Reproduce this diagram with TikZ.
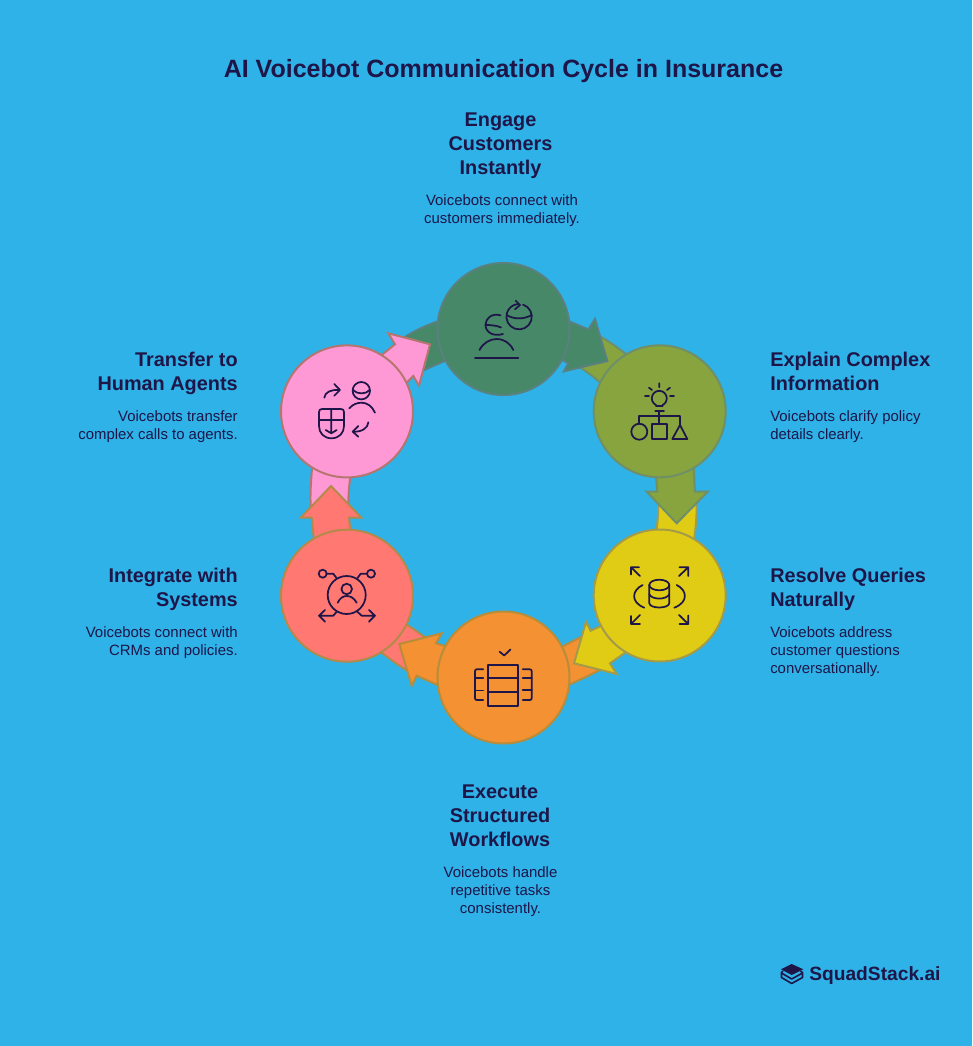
\documentclass[tikz,border=0pt]{standalone}
\usepackage{fontspec}
\setmainfont{Liberation Sans}
\definecolor{bg}{HTML}{2EB2E8}
\definecolor{ink}{HTML}{1E1548}
\definecolor{cgreen}{HTML}{468868}\definecolor{sgreen}{HTML}{5A8080}
\definecolor{colive}{HTML}{87A43F}\definecolor{solive}{HTML}{6F8F68}
\definecolor{cyellow}{HTML}{E0CC14}\definecolor{syellow}{HTML}{A39A4A}
\definecolor{corange}{HTML}{F39133}\definecolor{sorange}{HTML}{B78C3A}
\definecolor{ccoral}{HTML}{FF7872}\definecolor{scoral}{HTML}{B38A4A}
\definecolor{cpink}{HTML}{FF99D6}\definecolor{spink}{HTML}{B5766F}
\tikzset{
  shapeline/.style={line width=1.5pt,line join=miter},
  greenS/.style={shapeline,fill=cgreen,draw=sgreen},
  oliveS/.style={shapeline,fill=colive,draw=solive},
  yellowS/.style={shapeline,fill=cyellow,draw=syellow},
  orangeS/.style={shapeline,fill=corange,draw=sorange},
  coralS/.style={shapeline,fill=ccoral,draw=scoral},
  pinkS/.style={shapeline,fill=cpink,draw=spink},
  disc/.style={circle,minimum size=132*0.75pt,inner sep=0pt},
  icon/.style={draw=ink,line width=1.3pt,line cap=round,line join=round},
  titletext/.style={font=\fontsize{18.75}{23}\selectfont\bfseries,text=ink,inner sep=0pt},
  headtext/.style={font=\fontsize{14.9}{18}\selectfont\bfseries,text=ink,inner sep=0pt},
  desctext/.style={font=\fontsize{11.2}{13.5}\selectfont,text=ink,inner sep=0pt},
}
\begin{document}
\begin{tikzpicture}[x=0.75pt,y=-0.75pt]
\useasboundingbox (0,0) rectangle (972,1046);
\fill[bg] (0,0) rectangle (972,1046);
% tails
\path[greenS] (445,318) -- (436.7,321.7) .. controls (425,326) and (414,331) .. (405,337) -- (400,345) -- (410,365) -- (423,370.7) .. controls (430,367) and (438,364) .. (447,360) -- cycle;
\path[oliveS] (592,345) -- (601.7,337.3) .. controls (610,342) and (618,348) .. (626,354) -- (640,370) -- (610,392) -- (600,382.3) .. controls (594,377) and (587,372) .. (580,367.3) -- (585,358) -- cycle;
\path[yellowS] (670,498) -- (658.3,504) .. controls (658.3,513) and (657.5,523) .. (656,536) -- (694,540) .. controls (696,527) and (696.7,515) .. (696.7,503.3) -- (685,498) -- cycle;
\path[orangeS] (592,645) -- (581.7,636.7) .. controls (575,640) and (569,643) .. (560,648) -- (562,688) .. controls (575,682) and (588,676) .. (600,670) -- (595,655) -- cycle;
\path[coralS] (420,650) -- (426.7,638.3) .. controls (420,634) and (414,629) .. (407.3,625) -- (395,620) -- (375,650) -- (381.7,652.7) .. controls (390,659) and (398,665) .. (407.3,670.7) -- (415,665) -- cycle;
\path[pinkS] (325,512) -- (310.7,507) .. controls (310,494) and (311,481) .. (312.3,465) -- (351,472) .. controls (349.5,482) and (348.3,493) .. (348.3,504) -- (340,512) -- cycle;
% arrows
\path[greenS] (560,320) -- (570,321.7) -- (588.3,329.5) -- (595,319) -- (607.3,361) -- (564,371.3) -- (568.3,363.3) -- (555,356) -- cycle;
\path[oliveS] (655.5,470) -- (657.3,491.7) -- (646.7,491.7) -- (676.7,523.3) -- (707.7,491.7) -- (695,491.7) -- (693.3,462) -- cycle;
\path[yellowS] (605,618) -- (600.7,626) -- (590.7,630.7) -- (586,621.7) -- (574,663.3) -- (616.7,674) -- (610,663.3) -- (625,652.7) -- (632,645) -- cycle;
\path[orangeS] (450,648) -- (445,646) -- (436,643.3) -- (441.7,633.3) -- (399.3,644) -- (411.7,685.7) -- (416.7,675.7) -- (437.7,685) -- (445,688) -- cycle;
\path[coralS] (314.5,545) -- (311.7,517.7) -- (300.7,517.7) -- (331,486) -- (361.3,517.7) -- (349,517.7) -- (350.7,535) -- cycle;
\path[pinkS] (375,360) -- (381.7,355) -- (395,344.3) -- (388.3,333.3) -- (430,344.3) -- (419,385.7) -- (413.3,376) -- (406.7,382.7) -- (400,390) -- cycle;
% discs
\node[disc,greenS] (n1) at (503.5,329) {};
\node[disc,oliveS] (n2) at (659.7,411.3) {};
\node[disc,yellowS] (n3) at (659.7,595.5) {};
\node[disc,orangeS] (n4) at (503.5,677.5) {};
\node[disc,coralS] (n5) at (347,595.7) {};
\node[disc,pinkS] (n6) at (347,411.4) {};
% icon: green
\draw[icon] (500.5,315.3) .. controls (492,313) and (485.5,318) .. (485.5,325) .. controls (485.5,332) and (493,337) .. (503,334);
\draw[icon] (485.5,325) .. controls (491,325) and (497,325.5) .. (501,327.5);
\draw[icon] (479.5,350) .. controls (483,343) and (490,339) .. (496.5,339) .. controls (504,339) and (510,343) .. (513.3,350);
\draw[icon] (475,357.7) -- (518.3,357.7);
\draw[icon] (523,304.6) arc[start angle=-72,end angle=265,radius=12.7];
\draw[icon] (506.5,315) .. controls (514,319.5) and (524,319.5) .. (531.7,315);
\draw[icon] (515.7,300.7) -- (520,305) -- (515,309.3);
% icon: olive
\draw[icon] (656,406) -- (656,405.04) arc[start angle=116,end angle=424,radius=7.5] -- (662.6,406) -- cycle;
\draw[icon] (659.3,383.3) -- (659.3,387.3) (649,387.7) -- (652,390) (670,387.7) -- (667,390) (645,396) -- (649,396) (670,396) -- (674,396);
\draw[icon] (655.3,411.3) -- (664,411.3) (659.3,411.3) -- (659.3,423.7);
\draw[icon] (639.3,424) -- (639.3,416) -- (680,416) -- (680,425);
\draw[icon] (639.3,431.7) circle[radius=8];
\draw[icon] (652,423.7) rectangle (667.3,439);
\draw[icon] (672.3,439) -- (680,425) -- (687.3,439) -- cycle;
% icon: yellow
\draw[icon] (640,576) -- (631,567.3) (631,574.5) -- (631,567.3) -- (639,567.3);
\draw[icon] (679,576) -- (688.3,567.3) (679.5,567.3) -- (688.3,567.3) -- (688.3,576);
\draw[icon] (640,615) -- (631,624) (631,616) -- (631,624) -- (640,624);
\draw[icon] (679,615) -- (688.3,624) (679.5,624) -- (688.3,624) -- (688.3,615.5);
\draw[icon] (642.7,585) .. controls (632,590) and (630,602) .. (644.3,607.7);
\draw[icon] (676.7,585) .. controls (687,590) and (689,602) .. (674.3,607.7);
\draw[icon] (659.3,585) ellipse[x radius=10,y radius=5.3];
\draw[icon] (649.3,585) -- (649.3,603) .. controls (649.3,609) and (669.3,609) .. (669.3,603) -- (669.3,585);
\draw[icon] (649.3,594.3) .. controls (652,600) and (666.5,600) .. (669.3,594.3);
% icon: orange
\draw[icon] (499.6,651.7) -- (504.2,655.5) -- (510.4,649.5);
\draw[icon] (488.3,665) rectangle (518.3,705.7);
\draw[icon] (488.3,678.3) -- (518.3,678.3) (488.3,692.3) -- (518.3,692.3);
\draw[icon] (483.3,669.3) -- (477,669.3) .. controls (475.5,669.3) and (475,670) .. (475,671.5) -- (475,698) .. controls (475,699.5) and (475.5,700) .. (477,700) -- (483.3,700);
\draw[icon] (475,678.3) -- (483.3,678.3) (475,690.5) -- (483.3,690.5);
\draw[icon] (522.7,669.3) -- (529.7,669.3) .. controls (531.2,669.3) and (531.7,670) .. (531.7,671.5) -- (531.7,698) .. controls (531.7,699.5) and (531.2,700) .. (529.7,700) -- (522.7,700);
\draw[icon] (522.7,678.3) -- (531.7,678.3) (522.7,690) -- (531.7,690);
% icon: coral
\draw[icon] (346.7,595) circle[radius=19];
\draw[icon] (346.7,589) circle[radius=5.3];
\draw[icon] (337.7,602.7) .. controls (340,598) and (343,596) .. (346.7,596) .. controls (350.5,596) and (354,598) .. (356.7,602.7);
\draw[icon] (322.7,573.7) circle[radius=4];
\draw[icon] (371,573.7) circle[radius=4];
\draw[icon] (326.7,573.7) -- (333.3,573.7) -- (336.7,578.3);
\draw[icon] (367,573.7) -- (360.7,573.7) -- (357.3,578.3);
\draw[icon] (336.7,611.7) -- (333.3,615.7) -- (319,615.7) (325,610) -- (319,615.7) -- (325,621.7);
\draw[icon] (357.3,611.7) -- (361.7,615.7) -- (375,615.7) (369,610) -- (375,615.7) -- (369,621.7);
% icon: pink
\draw[icon] (324.3,397.7) .. controls (325,392) and (331,389.5) .. (339,390);
\draw[icon] (334.3,384) -- (340,390) -- (334.3,395.7);
\draw[icon] (361.3,390.7) circle[radius=8.7];
\draw[icon] (353,390) .. controls (357,394.5) and (366,394.5) .. (369.7,390);
\draw[icon] (349.3,408.3) .. controls (353,404) and (357.5,402.7) .. (361.7,402.7) .. controls (367,402.7) and (372,406) .. (375,412.7);
\draw[icon] (322,409) -- (341,409) .. controls (343,409) and (344,410) .. (344,412) -- (344,426) .. controls (344,433) and (339,438.3) .. (331.5,438.3) .. controls (324,438.3) and (319,433) .. (319,426) -- (319,412) .. controls (319,410) and (320,409) .. (322,409) -- cycle;
\draw[icon] (319,420) -- (344,420) (331.3,409) -- (331.3,433.3) (325.7,430) -- (331.3,433.3) -- (336.7,430);
\draw[icon] (368.3,422.3) .. controls (368,428) and (362,432) .. (353.3,431.7);
\draw[icon] (358.3,426) -- (352.7,431.7) -- (358.3,436.7);
% texts
\node[titletext] (title) at (503.5,71.5) {AI Voicebot Communication Cycle in Insurance};
\node[headtext,align=center,anchor=north] (h1) at (500.5,112.7) {Engage\\Customers\\Instantly};
\node[desctext,align=center,anchor=north] (d1) at (502,194) {Voicebots connect with\\customers immediately.};
\node[headtext,align=left,anchor=north west] (h2) at (770,352.3) {Explain Complex\\Information};
\node[desctext,align=left,anchor=north west] (d2) at (770,410) {Voicebots clarify policy\\details clearly.};
\node[headtext,align=left,anchor=north west] (h3) at (770,568.3) {Resolve Queries\\Naturally};
\node[desctext,align=left,anchor=north west] (d3) at (770,626) {Voicebots address\\customer questions\\conversationally.};
\node[headtext,align=center,anchor=north] (h4) at (500,784.7) {Execute\\Structured\\Workflows};
\node[desctext,align=center,anchor=north] (d4) at (500.5,866) {Voicebots handle\\repetitive tasks\\consistently.};
\node[headtext,align=right,anchor=north east] (h5) at (238,568.3) {Integrate with\\Systems};
\node[desctext,align=right,anchor=north east] (d5) at (238,626) {Voicebots connect with\\CRMs and policies.};
\node[headtext,align=right,anchor=north east] (h6) at (238,352.3) {Transfer to\\Human Agents};
\node[desctext,align=right,anchor=north east] (d6) at (238,410) {Voicebots transfer\\complex calls to agents.};
% logo
\fill[ink] (781,969.3) -- (791.7,964) -- (803.3,969.3) -- (791.7,975) -- cycle;
\draw[ink,line width=1.2pt,line join=round] (783,971) -- (781.5,972.5) -- (781.5,977.5) -- (791.7,983.5) -- (802.5,977.5) -- (802.5,972.5) -- (800.5,971);
\draw[ink,line width=1.2pt,line join=round] (781.5,973) -- (791.7,979) -- (802.5,973);
\node[font=\fontsize{14.4}{18}\selectfont\bfseries,text=ink,inner sep=0pt,anchor=west] (logo) at (809,976) {SquadStack.ai};
\end{tikzpicture}
\end{document}
